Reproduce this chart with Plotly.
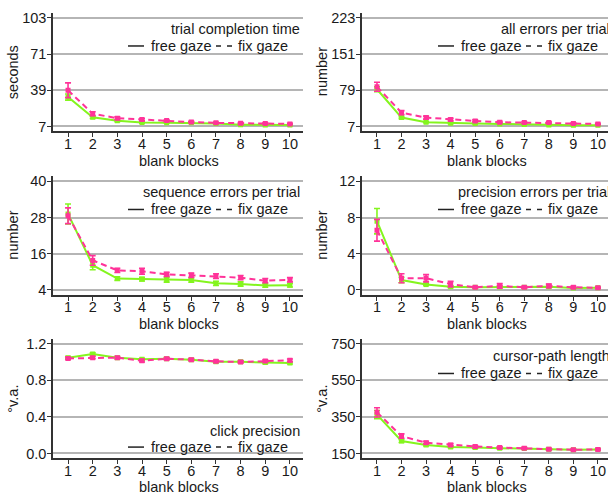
import plotly.graph_objects as go

# ---------------- data ----------------
blocks = [1, 2, 3, 4, 5, 6, 7, 8, 9, 10]

time_free = [33.0, 15.1, 12.0, 10.5, 10.4, 10.3, 9.6, 8.6, 8.4, 8.3]
time_free_se = [2.7, 1.0, 0.8, 0.6, 0.6, 0.5, 0.5, 0.5, 0.5, 0.5]
time_fix = [39.0, 18.3, 14.3, 13.1, 12.2, 10.9, 10.2, 9.9, 9.6, 9.3]
time_fix_se = [6.5, 1.7, 1.2, 1.0, 0.8, 0.6, 0.6, 0.6, 0.6, 0.6]

allerr_free = [81.0, 24.7, 15.5, 13.5, 12.9, 12.2, 10.9, 9.8, 9.6, 9.6]
allerr_free_se = [5.0, 2.0, 1.2, 1.0, 1.0, 1.0, 1.0, 0.9, 0.9, 0.9]
allerr_fix = [86.0, 34.5, 24.7, 20.7, 18.1, 15.5, 14.9, 14.9, 12.9, 12.2]
allerr_fix_se = [9.0, 4.0, 3.0, 2.5, 2.0, 1.6, 1.5, 1.5, 1.3, 1.3]

seqerr_free = [29.2, 12.2, 7.8, 7.6, 7.4, 7.3, 6.2, 6.0, 5.5, 5.6]
seqerr_free_se = [3.3, 1.5, 0.6, 0.6, 0.8, 0.7, 0.7, 0.7, 0.6, 0.6]
seqerr_fix = [28.6, 13.8, 10.5, 10.2, 9.2, 8.9, 8.6, 8.1, 7.1, 7.4]
seqerr_fix_se = [2.6, 1.6, 0.7, 1.0, 0.7, 0.7, 0.8, 0.7, 0.7, 0.7]

precerr_free = [7.6, 1.1, 0.6, 0.36, 0.3, 0.33, 0.3, 0.35, 0.22, 0.25]
precerr_free_se = [1.4, 0.3, 0.1, 0.1, 0.06, 0.06, 0.06, 0.06, 0.06, 0.06]
precerr_fix = [6.6, 1.3, 1.3, 0.65, 0.3, 0.45, 0.3, 0.45, 0.3, 0.25]
precerr_fix_se = [1.2, 0.5, 0.4, 0.3, 0.08, 0.25, 0.1, 0.2, 0.1, 0.08]

click_free = [1.049, 1.088, 1.049, 1.031, 1.038, 1.027, 1.005, 1.005, 0.995, 0.991]
click_free_se = [0.012, 0.014, 0.012, 0.012, 0.012, 0.012, 0.012, 0.012, 0.012, 0.012]
click_fix = [1.041, 1.049, 1.049, 1.016, 1.038, 1.027, 1.009, 1.002, 1.013, 1.020]
click_fix_se = [0.012, 0.012, 0.012, 0.015, 0.012, 0.012, 0.012, 0.012, 0.012, 0.015]

path_free = [363, 218, 197, 186, 182, 179, 177, 173, 170, 172]
path_free_se = [22, 8, 6, 5, 5, 4, 4, 4, 4, 4]
path_fix = [375, 245, 209, 197, 188, 182, 179, 173, 170, 172]
path_fix_se = [25, 12, 8, 7, 6, 5, 5, 5, 4, 4]

titles = ["trial completion time", "all errors per trial", "sequence errors per trial",
          "precision errors per trial", "click precision", "cursor-path length"]
ytitles = ["seconds", "number", "number", "number", "°v.a.", "°v.a."]
yticks = [[7, 39, 71, 103], [7, 79, 151, 223], [4, 16, 28, 40], [0, 4, 8, 12],
          [0.0, 0.4, 0.8, 1.2], [150, 350, 550, 750]]
yticktext = [["7", "39", "71", "103"], ["7", "79", "151", "223"], ["4", "16", "28", "40"],
             ["0", "4", "8", "12"], ["0.0", "0.4", "0.8", "1.2"], ["150", "350", "550", "750"]]
xtitle = "blank blocks"
series_names = ["free gaze", "fix gaze"]

free_vals = [time_free, allerr_free, seqerr_free, precerr_free, click_free, path_free]
free_se = [time_free_se, allerr_free_se, seqerr_free_se, precerr_free_se, click_free_se, path_free_se]
fix_vals = [time_fix, allerr_fix, seqerr_fix, precerr_fix, click_fix, path_fix]
fix_se = [time_fix_se, allerr_fix_se, seqerr_fix_se, precerr_fix_se, click_fix_se, path_fix_se]

# ---------------- layout helpers ----------------
W, H = 608, 498
FONT = "Liberation Sans, Arial, sans-serif"
FS = 14.5
TXT = "#1a1a1a"
GREEN = "#84f51e"
PINK = "#ff3399"


def px(x):
    return x / W


def py(y):
    return 1 - y / H


col_axis_px = [(53, 303), (362, 608)]
col_xrange = [(0.39, 10.53), (0.39, 10.41)]
col_right = [302, 612]
col_ytitle_x = [13, 322]
row_px = [(10, 130), (175.5, 295.5), (340, 461)]
row_xtitle_y = [160, 325, 490]
# (title y, legend y) per panel
text_y = [(26, 43.5), (26, 43.5), (191, 209), (191, 209), (433, 449.5), (357, 375)]

fig = go.Figure()
annotations = []
shapes = []

for i in range(6):
    n = i + 1
    col = i % 2
    row = i // 2
    xs = "x" if n == 1 else f"x{n}"
    ys = "y" if n == 1 else f"y{n}"
    xa = "xaxis" if n == 1 else f"xaxis{n}"
    ya = "yaxis" if n == 1 else f"yaxis{n}"

    fig.add_trace(go.Scatter(
        x=blocks, y=free_vals[i], xaxis=xs, yaxis=ys, mode="lines+markers",
        name=series_names[0], showlegend=False,
        line=dict(color=GREEN, width=2),
        marker=dict(symbol="square", size=5, color=GREEN),
        error_y=dict(type="data", array=free_se[i], color=GREEN, thickness=1.6, width=3),
    ))
    fig.add_trace(go.Scatter(
        x=blocks, y=fix_vals[i], xaxis=xs, yaxis=ys, mode="lines+markers",
        name=series_names[1], showlegend=False,
        line=dict(color=PINK, width=2, dash="6px,4px"),
        marker=dict(symbol="square", size=5, color=PINK),
        error_y=dict(type="data", array=fix_se[i], color=PINK, thickness=1.6, width=3),
    ))

    x0, x1 = col_axis_px[col]
    top, bot = row_px[row]
    lo, hi = yticks[i][0], yticks[i][-1]
    pad = (hi - lo) * 5 / 110

    fig.layout[xa] = dict(
        domain=[px(x0), min(px(x1), 1.0)], range=list(col_xrange[col]), anchor=ys,
        tickmode="array", tickvals=blocks, ticktext=[str(b) for b in blocks],
        ticks="outside", ticklen=4, tickwidth=1, tickcolor="#333",
        ticklabelstandoff=-6,
        showline=True, linecolor="#333", linewidth=1.5, showgrid=False, zeroline=False,
        tickfont=dict(family=FONT, size=FS, color=TXT),
    )
    fig.layout[ya] = dict(
        domain=[py(bot), py(top)], range=[lo - pad, hi + pad], anchor=xs,
        tickmode="array", tickvals=yticks[i], ticktext=yticktext[i],
        ticks="outside", ticklen=4, tickwidth=1, tickcolor="#333",
        ticklabelstandoff=-2,
        showline=True, linecolor="#333", linewidth=1.5,
        showgrid=True, gridcolor="#b5b5b5", gridwidth=1.5, zeroline=False,
        tickfont=dict(family=FONT, size=FS, color=TXT),
    )

    # axis titles
    annotations.append(dict(
        text=ytitles[i], xref="paper", yref="paper", x=px(col_ytitle_x[col]),
        y=py((top + bot) / 2), textangle=-90, showarrow=False,
        xanchor="center", yanchor="middle", font=dict(family=FONT, size=FS, color=TXT)))
    annotations.append(dict(
        text=xtitle, xref=xs, yref="paper", x=5.5, y=py(row_xtitle_y[row]),
        showarrow=False, xanchor="center", yanchor="middle",
        font=dict(family=FONT, size=FS, color=TXT)))

    # panel title and legend
    R = col_right[col]
    ty, ly = text_y[i]
    annotations.append(dict(
        text=titles[i], xref="paper", yref="paper", x=px(R), y=py(ty),
        showarrow=False, xanchor="right", yanchor="middle",
        font=dict(family=FONT, size=FS, color=TXT)))
    annotations.append(dict(
        text=series_names[0], xref="paper", yref="paper", x=px(R - 153), y=py(ly),
        showarrow=False, xanchor="left", yanchor="middle",
        font=dict(family=FONT, size=FS, color=TXT)))
    annotations.append(dict(
        text=series_names[1], xref="paper", yref="paper", x=px(R - 66), y=py(ly),
        showarrow=False, xanchor="left", yanchor="middle",
        font=dict(family=FONT, size=FS, color=TXT)))
    shapes.append(dict(type="line", xref="paper", yref="paper",
                       x0=px(R - 174), x1=px(R - 158), y0=py(ly), y1=py(ly),
                       line=dict(color="#222", width=1.5)))
    shapes.append(dict(type="line", xref="paper", yref="paper",
                       x0=px(R - 86), x1=px(R - 70), y0=py(ly), y1=py(ly),
                       line=dict(color="#222", width=1.5, dash="5px,6px")))

fig.update_layout(
    width=W, height=H, margin=dict(l=0, r=0, t=0, b=0),
    paper_bgcolor="white", plot_bgcolor="white",
    annotations=annotations, shapes=shapes, showlegend=False,
)

fig.write_html("out.html", config={"displayModeBar": False},
               post_script="document.body.style.margin='0';document.body.style.overflow='hidden';")
